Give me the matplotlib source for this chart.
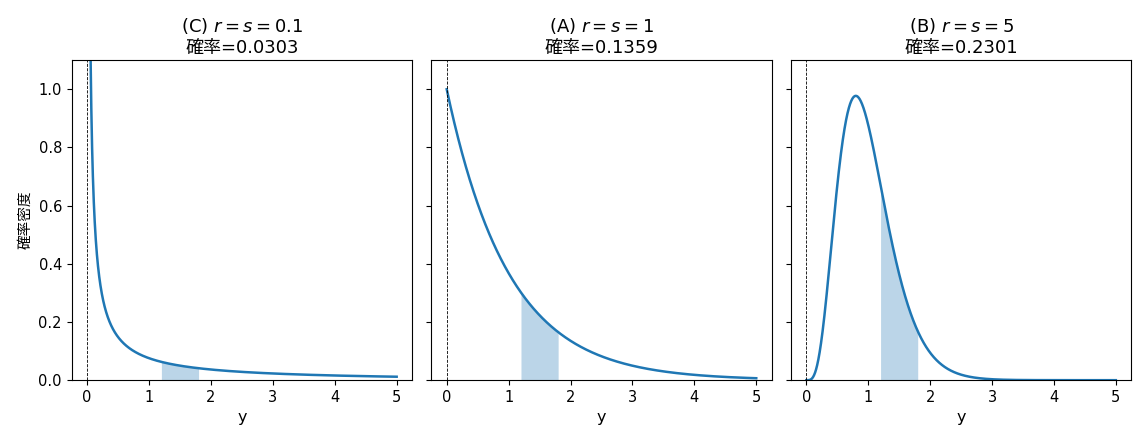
import math
import numpy as np
import matplotlib
matplotlib.use("Agg")
import matplotlib.pyplot as plt

plt.rcParams['font.family'] = ['DejaVu Sans', 'Noto Sans CJK JP']
plt.rcParams['mathtext.fontset'] = 'dejavusans'

# gamma distribution parameters (shape r, rate s) for each panel
labels = ['(C)', '(A)', '(B)']
r_vals = [0.1, 1, 5]
s_vals = [0.1, 1, 5]
probs = ['0.0303', '0.1359', '0.2301']
lo, hi = 1.2, 1.8  # shaded interval


def gamma_pdf(y, r, s):
    return s**r / math.gamma(r) * y**(r - 1) * np.exp(-s * y)


fig, axes = plt.subplots(1, 3, figsize=(11.37, 4.38), dpi=100, sharey=True)
fig.subplots_adjust(left=0.063, right=0.995, top=0.863, bottom=0.132, wspace=0.056)

y = np.linspace(0.0005, 5, 2000)
for ax, lab, r, s, p in zip(axes, labels, r_vals, s_vals, probs):
    f = gamma_pdf(y, r, s)
    ax.plot(y, f, color='#1f77b4', lw=1.8)
    ax.axvline(0, color='k', ls='--', lw=0.6)
    yy = np.linspace(lo, hi, 200)
    ax.fill_between(yy, gamma_pdf(yy, r, s), color='#1f77b4', alpha=0.3, lw=0)
    ax.set_title(f'{lab} $r = s = {r}$\n確率={p}', fontsize=13, pad=5)
    ax.set_xlabel('y', fontsize=11.5)
    ax.set_xlim(-0.25, 5.25)
    ax.set_xticks([0, 1, 2, 3, 4, 5])
    ax.tick_params(labelsize=10.5)

axes[0].set_ylim(0, 1.1)
axes[0].set_ylabel('確率密度', fontsize=10.5)

plt.savefig('out.png')
